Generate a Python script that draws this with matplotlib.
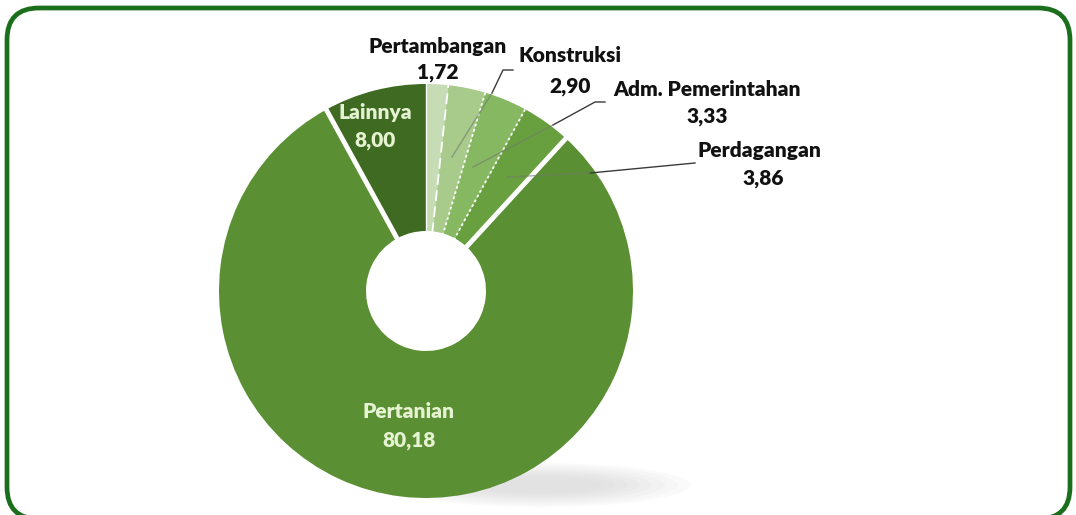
import matplotlib.pyplot as plt
import numpy as np
from matplotlib.patches import FancyBboxPatch, Ellipse

# Data
sectors = ['Pertambangan', 'Konstruksi', 'Adm. Pemerintahan', 'Perdagangan', 'Pertanian', 'Lainnya']
shares = [1.72, 2.90, 3.33, 3.86, 80.18, 8.00]
share_labels = ['1,72', '2,90', '3,33', '3,86', '80,18', '8,00']
colors = ['#c6dcb4', '#a8cb8c', '#86b862', '#68a03f', '#5b8f33', '#3e6a22']

plt.rcParams['font.family'] = ['Lato', 'DejaVu Sans']

W, H = 1076, 515
fig = plt.figure(figsize=(W / 100, H / 100), dpi=100)
ax = fig.add_axes([0, 0, 1, 1])

cx, cy, r_out, r_in = 426, 224, 207, 60

wedges, _ = ax.pie(shares, startangle=90, counterclock=False, colors=colors,
                   radius=r_out, center=(cx, cy),
                   wedgeprops=dict(width=r_out - r_in, edgecolor='none'))
for w in wedges:
    w.set_zorder(2)

# pie() resets the limits, so set pixel-like limits afterwards
ax.set_xlim(0, W)
ax.set_ylim(0, H)
ax.set_aspect('equal')
ax.axis('off')

# rounded frame (bottom edge runs just past the picture)
frame = FancyBboxPatch((7 + 30, -4 + 30), 1063 - 60, 511 - 60,
                       boxstyle='round,pad=30,rounding_size=32',
                       fc='white', ec='#1b6e1b', lw=3.4, zorder=0, clip_on=False)
ax.add_patch(frame)

# soft shadow to the lower right of the donut
for i, a in enumerate(np.linspace(0.035, 0.02, 8)):
    ax.add_patch(Ellipse((540, 30), 300 - i * 25, 44 - i * 4, fc='#808080', ec='none', alpha=a, zorder=1))

# separators between slices
bounds = 90 - 360 * np.cumsum(shares) / sum(shares)
styles = [(1.3, (0, (6, 3))), (1.3, (0, (1.5, 1.5))), (1.3, (0, (1.5, 1.5))), (3.5, '-'), (3.5, '-'), (1.0, '-')]
for ang, (lw, ls) in zip(bounds, styles):
    t = np.deg2rad(ang)
    ax.plot([cx + (r_in - 2) * np.cos(t), cx + (r_out + 2) * np.cos(t)],
            [cy + (r_in - 2) * np.sin(t), cy + (r_out + 2) * np.sin(t)],
            color='white', lw=lw, ls=ls, solid_capstyle='butt', zorder=3)

# leader lines (outside dark, inside faint)
leaders = [
    [(513, 445), (503, 445), (492, 422)],
    [(605, 413), (595, 413), (553, 390)],
    [(695, 352), (590, 342)],
]
inner = [
    [(492, 422), (452, 358)],
    [(553, 390), (473, 348)],
    [(590, 342), (507, 338)],
]
for pts in leaders:
    xs, ys = zip(*pts)
    ax.plot(xs, ys, color='#3a3a3a', lw=1.0, zorder=4)
for pts in inner:
    xs, ys = zip(*pts)
    ax.plot(xs, ys, color='#6f7a68', lw=1.0, alpha=0.6, zorder=4)

dark = dict(color='#111111', fontsize=15, fontweight='heavy', ha='center', va='center', zorder=5)
light = dict(color='#e6f3d2', fontsize=15, fontweight='heavy', ha='center', va='center', zorder=5)

ax.text(438, 468, sectors[0], **dark)
ax.text(438, 442, share_labels[0], **dark)
ax.text(570, 460, sectors[1], **dark)
ax.text(570, 428, share_labels[1], **dark)
ax.text(707, 425, sectors[2], **dark)
ax.text(707, 398, share_labels[2], **dark)
ax.text(759, 365, sectors[3], **dark)
ax.text(763, 336, share_labels[3], **dark)
ax.text(375, 402, sectors[5], **light)
ax.text(375, 375, share_labels[5], **light)
ax.text(409, 103, sectors[4], **light)
ax.text(409, 75, share_labels[4], **light)

fig.savefig('out.png', dpi=100)
